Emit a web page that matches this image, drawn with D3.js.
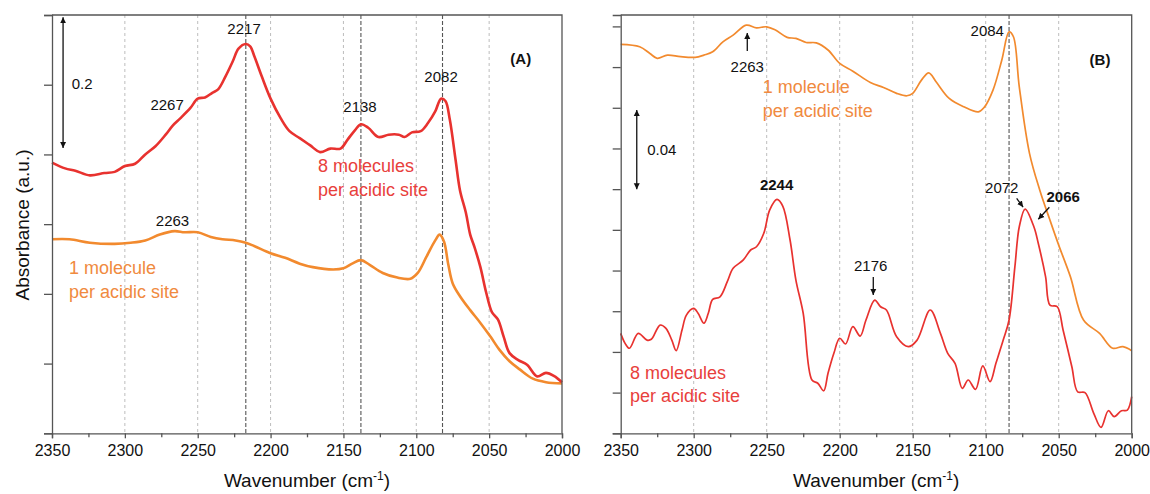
<!DOCTYPE html>
<html><head><meta charset="utf-8">
<script src="https://cdn.jsdelivr.net/npm/d3@7"></script>
<style>
body{margin:0;background:#fff;}
svg{display:block;}
text{font-family:"Liberation Sans",Arial,sans-serif;}
</style></head>
<body>
<svg id="chart" width="1150" height="494"></svg>
<script>
// ---------- DATA ----------
const xTicks = [2350, 2300, 2250, 2200, 2150, 2100, 2050, 2000];
const xMinorTicks = [2325, 2275, 2225, 2175, 2125, 2075, 2025];
const gridLines = [2300, 2250, 2200, 2150, 2100, 2050];
const markA = [2217, 2138, 2082];
const markB = [2084];
const yTicksA = [0, 0.06, 0.12, 0.18, 0.24, 0.30, 0.36];
const yTicksB = [0, 0.02, 0.04, 0.06, 0.08, 0.10, 0.12, 0.14, 0.16, 0.18, 0.20];

// Panel A : 8 molecules per acidic site (red)
const redA_wn = [2350,2341,2334,2324,2314,2307,2300,2293,2286,2279,2272,2267,2262,2255,2250,2245,2240,2236,2231,2226,2222,2217,2214,2211,2206,2200,2193,2187,2180,2173,2166,2159,2152,2147,2142,2138,2133,2126,2119,2112,2108,2103,2097,2092,2087,2083,2080,2077,2073,2070,2066,2063,2060,2056,2052,2048,2044,2040,2036,2030,2024,2017,2011,2005,2000];
const redA_abs = [0.233,0.228,0.226,0.222,0.224,0.225,0.230,0.232,0.240,0.247,0.257,0.265,0.271,0.280,0.288,0.289,0.293,0.296,0.307,0.320,0.331,0.335,0.333,0.324,0.307,0.288,0.271,0.260,0.254,0.248,0.242,0.245,0.245,0.253,0.261,0.266,0.263,0.255,0.257,0.257,0.255,0.259,0.260,0.267,0.277,0.288,0.286,0.270,0.235,0.209,0.190,0.171,0.160,0.143,0.121,0.104,0.098,0.083,0.069,0.063,0.059,0.049,0.052,0.049,0.044];
// Panel A : 1 molecule per acidic site (orange)
const orangeA_wn = [2350,2338,2324,2307,2296,2286,2276,2266,2259,2250,2241,2233,2224,2217,2211,2200,2190,2180,2171,2157,2150,2144,2138,2132,2123,2113,2104,2099,2093,2087,2084,2081,2078,2075,2070,2063,2056,2049,2043,2036,2029,2020,2011,2000];
const orangeA_abs = [0.167,0.167,0.164,0.163,0.164,0.166,0.171,0.174,0.173,0.173,0.169,0.167,0.166,0.164,0.161,0.155,0.151,0.146,0.143,0.141,0.142,0.146,0.149,0.145,0.138,0.134,0.133,0.138,0.152,0.166,0.171,0.165,0.145,0.129,0.118,0.106,0.095,0.083,0.072,0.062,0.055,0.047,0.044,0.043];
// Panel B : 1 molecule per acidic site (orange)
const orangeB_wn = [2350,2337,2330,2325,2318,2309,2299,2293,2287,2280,2273,2264,2257,2250,2244,2236,2230,2223,2216,2208,2200,2191,2179,2170,2161,2154,2150,2144,2139,2134,2125,2115,2105,2101,2095,2089,2084,2081,2077,2070,2063,2056,2050,2042,2033,2022,2013,2006,2000];
const orangeB_abs = [0.1912,0.1900,0.1867,0.1843,0.1859,0.1851,0.1848,0.1859,0.1875,0.1924,0.1957,0.2006,0.1993,0.1998,0.1982,0.1946,0.1941,0.1921,0.1919,0.1884,0.1818,0.1780,0.1724,0.1700,0.1671,0.1659,0.1671,0.1736,0.1772,0.1728,0.1646,0.1605,0.1580,0.1602,0.1687,0.1834,0.1973,0.1949,0.1703,0.1376,0.1196,0.1048,0.0925,0.0770,0.0557,0.0491,0.0418,0.0426,0.0406];
// Panel B : 8 molecules per acidic site (red)
const redB_wn = [2350,2347,2344,2338,2332,2329,2323,2319,2315,2312,2308,2305,2300,2297,2293,2290,2287,2282,2277,2273,2266,2261,2257,2252,2248,2243,2239,2234,2230,2225,2219,2215,2211,2208,2204,2200,2196,2191,2186,2182,2176,2172,2168,2161,2153,2147,2138,2131,2126,2121,2116,2112,2107,2102,2097,2093,2088,2084,2080,2077,2073,2067,2064,2059,2056,2051,2047,2041,2037,2032,2026,2021,2016,2012,2007,2003,2000];
const redB_abs = [0.0491,0.0442,0.0418,0.0491,0.0458,0.0462,0.0532,0.0516,0.0458,0.0406,0.0508,0.0581,0.0614,0.0590,0.0541,0.0590,0.0658,0.0671,0.0745,0.0811,0.0852,0.0901,0.0917,0.0983,0.1097,0.1150,0.1117,0.0950,0.0753,0.0590,0.0262,0.0246,0.0209,0.0295,0.0393,0.0467,0.0439,0.0524,0.0478,0.0557,0.0655,0.0622,0.0606,0.0475,0.0426,0.0458,0.0606,0.0491,0.0393,0.0344,0.0221,0.0262,0.0216,0.0331,0.0254,0.0344,0.0458,0.0557,0.0819,0.1015,0.1102,0.1015,0.0934,0.0770,0.0630,0.0622,0.0508,0.0327,0.0204,0.0200,0.0098,0.0029,0.0111,0.0082,0.0111,0.0114,0.0180];

// ---------- STYLE ----------
const RED = "#e8322f", ORANGE = "#f28a2e";
const RED_TXT = "#e8403c", ORANGE_TXT = "#f08a40";
const AXIS = "#555";
const LABEL_FONT = "Lato, 'Open Sans', sans-serif";

const svg = d3.select("#chart");
const defs = svg.append("defs");
defs.append("marker").attr("id","ah").attr("viewBox","0 0 10 10")
  .attr("refX",10).attr("refY",5).attr("markerWidth",6).attr("markerHeight",7)
  .attr("markerUnits","userSpaceOnUse").attr("orient","auto-start-reverse")
  .append("path").attr("d","M0,0 L10,5 L0,10 z").attr("fill","#111");

const yTop = 15, yBottom = 433.3;

function panel(x0, x1, yMax, yTicks, marks, series, lw) {
  const x = d3.scaleLinear().domain([2350, 2000]).range([x0, x1]);
  const y = d3.scaleLinear().domain([0, yMax]).range([yBottom, yTop]);
  const g = svg.append("g");
  g.selectAll(".grid").data(gridLines).enter().append("line")
    .attr("x1", d => x(d)).attr("x2", d => x(d)).attr("y1", yTop).attr("y2", yBottom)
    .attr("stroke", "#bdbdbd").attr("stroke-width", 1).attr("stroke-dasharray", "3,3");
  g.selectAll(".mark").data(marks).enter().append("line")
    .attr("x1", d => x(d)).attr("x2", d => x(d)).attr("y1", yTop).attr("y2", yBottom)
    .attr("stroke", "#555").attr("stroke-width", 1.1).attr("stroke-dasharray", "4,2");
  const line = d3.line().x(d => x(d[0])).y(d => y(d[1])).curve(d3.curveCatmullRom.alpha(0.5));
  series.forEach(s => {
    g.append("path").datum(d3.zip(s.wn, s.abs)).attr("d", line)
      .attr("fill", "none").attr("stroke", s.color).attr("stroke-width", lw)
      .attr("stroke-linejoin", "round");
  });
  g.append("path").attr("d", `M${x0},${yTop}H${x1}V${yBottom}`)
    .attr("fill","none").attr("stroke", AXIS).attr("stroke-width", 1.3);
  const xa = g.append("g").attr("transform", `translate(0,${yBottom})`)
    .call(d3.axisBottom(x).tickValues(xTicks).tickSize(5).tickPadding(6).tickFormat(d3.format("d")));
  g.append("g").attr("transform", `translate(0,${yBottom})`)
    .call(d3.axisBottom(x).tickValues(xMinorTicks).tickSize(4).tickFormat(""))
    .call(a => a.select(".domain").remove());
  g.append("g").attr("transform", `translate(${x0},0)`)
    .call(d3.axisLeft(y).tickValues(yTicks).tickSize(8).tickFormat(""));
  g.selectAll(".domain").attr("stroke", AXIS).attr("stroke-width", 1.3);
  g.selectAll(".tick line").attr("stroke", AXIS).attr("stroke-width", 1.3);
  xa.selectAll("text").attr("font-size", 16).attr("fill", "#111")
    .attr("font-family", "'Liberation Sans', Arial, sans-serif");
  const t = g.append("text").attr("x", (x0 + x1) / 2).attr("y", 487)
    .attr("text-anchor", "middle").attr("font-size", 19).attr("fill", "#111");
  t.append("tspan").text("Wavenumber (cm");
  t.append("tspan").text("-1").attr("font-size", 12).attr("dy", -7);
  t.append("tspan").text(")").attr("dy", 7);
  return {x, y, g};
}

function num(p, wn, v, txt, opts = {}) {
  p.g.append("text").attr("x", p.x(wn)).attr("y", p.y(v))
    .attr("text-anchor", opts.anchor || "middle").attr("dominant-baseline", "central")
    .attr("font-size", opts.size || 15).attr("font-weight", opts.bold ? "bold" : "normal")
    .attr("fill", "#111").text(txt);
}
function lbl(p, wn, v1, v2, l1, l2, color) {
  [[v1, l1], [v2, l2]].forEach(([v, s]) => {
    p.g.append("text").attr("x", p.x(wn)).attr("y", p.y(v)).attr("dominant-baseline", "central")
      .attr("font-family", LABEL_FONT).attr("font-size", 18).attr("fill", color).text(s);
  });
}
function arrow(p, wn1, v1, wn2, v2, both) {
  const l = p.g.append("line").attr("x1", p.x(wn1)).attr("y1", p.y(v1))
    .attr("x2", p.x(wn2)).attr("y2", p.y(v2)).attr("stroke", "#111").attr("stroke-width", 1.3)
    .attr("marker-end", "url(#ah)");
  if (both) l.attr("marker-start", "url(#ah)");
}

// ---------- PANEL A ----------
const A = panel(52, 562, 0.36, yTicksA, markA, [
  {wn: orangeA_wn, abs: orangeA_abs, color: ORANGE},
  {wn: redA_wn, abs: redA_abs, color: RED}
], 2.6);
arrow(A, 2342.4, 0.2456, 2342.4, 0.358, true);
num(A, 2336.5, 0.3007, "0.2", {anchor: "start"});
num(A, 2218.2, 0.3481, "2217");
num(A, 2271, 0.2827, "2267");
num(A, 2138.6, 0.2809, "2138");
num(A, 2083, 0.3068, "2082");
num(A, 2028.3, 0.3223, "(A)", {bold: true});
num(A, 2267.3, 0.1831, "2263");
lbl(A, 2167.4, 0.2301, 0.2095, "8 molecules", "per acidic site", RED_TXT);
lbl(A, 2338.3, 0.1421, 0.1219, "1 molecule", "per acidic site", ORANGE_TXT);
svg.append("text").attr("transform", "translate(22,225) rotate(-90)")
  .attr("text-anchor", "middle").attr("dominant-baseline", "central")
  .attr("font-size", 19).attr("fill", "#111").text("Absorbance (a.u.)");

// ---------- PANEL B ----------
const B = panel(620.7, 1131.7, 0.2056, yTicksB, markB, [
  {wn: orangeB_wn, abs: orangeB_abs, color: ORANGE},
  {wn: redB_wn, abs: redB_abs, color: RED}
], 1.7);
arrow(B, 2263.3, 0.1879, 2263.3, 0.1968);
num(B, 2263.3, 0.1802, "2263");
lbl(B, 2252.7, 0.1700, 0.1584, "1 molecule", "per acidic site", ORANGE_TXT);
arrow(B, 2339, 0.1199, 2339, 0.1589, true);
num(B, 2331.8, 0.1397, "0.04", {anchor: "start"});
num(B, 2243.2, 0.1224, "2244", {bold: true});
num(B, 2087.5, 0.1978, "2084", {anchor: "end"});
num(B, 2021.7, 0.1838, "(B)", {bold: true});
num(B, 2089, 0.1209, "2072");
arrow(B, 2078.8, 0.1155, 2074.4, 0.1112);
num(B, 2046.9, 0.1163, "2066", {bold: true});
arrow(B, 2056.4, 0.1111, 2064, 0.1052);
num(B, 2178.8, 0.0827, "2176");
arrow(B, 2177, 0.0768, 2177, 0.0680);
lbl(B, 2343.6, 0.0298, 0.0183, "8 molecules", "per acidic site", RED_TXT);
</script>
</body></html>
